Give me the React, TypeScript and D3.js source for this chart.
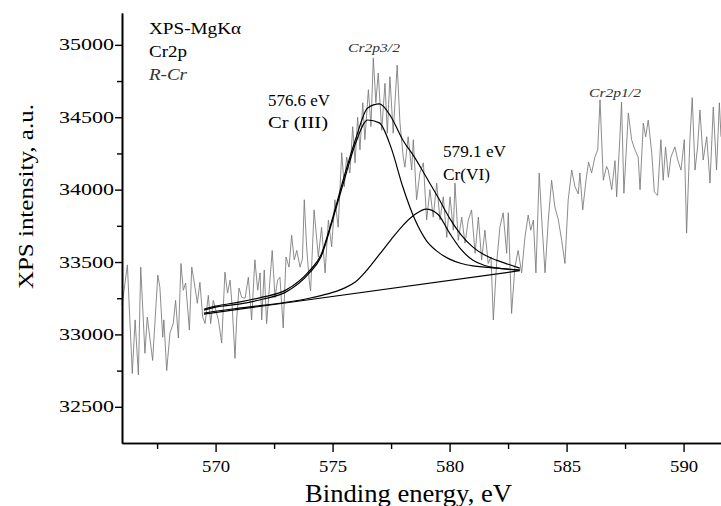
import * as d3 from 'd3'
import { useEffect, useRef } from 'react'

// measured spectrum (binding energy, eV / counts)
const spectrumEnergy = [
    566.00, 566.23, 566.44, 566.56, 566.70, 566.80, 566.98, 567.08, 567.31, 567.53,
    567.62, 567.74, 567.79, 567.91, 568.05, 568.19, 568.29, 568.41, 568.52, 568.62,
    568.72, 568.88, 568.98, 569.12, 569.22, 569.33, 569.45, 569.55, 569.69, 569.79,
    569.90, 570.12, 570.26, 570.40, 570.51, 570.62, 570.71, 570.83, 570.90, 571.00,
    571.12, 571.26, 571.40, 571.54, 571.68, 571.80, 571.90, 571.97, 572.08, 572.18,
    572.29, 572.42, 572.54, 572.65, 572.75, 572.89, 573.01, 573.14, 573.25, 573.36,
    573.47, 573.61, 573.71, 573.79, 573.89, 574.00, 574.06, 574.21, 574.39, 574.53,
    574.68, 574.82, 574.96, 575.10, 575.24, 575.39, 575.50, 575.60, 575.74, 575.86,
    575.96, 576.07, 576.17, 576.29, 576.38, 576.53, 576.64, 576.74, 576.85, 576.95,
    577.10, 577.24, 577.34, 577.45, 577.59, 577.76, 577.88, 578.02, 578.09, 578.23,
    578.38, 578.45, 578.59, 578.73, 578.88, 579.02, 579.16, 579.30, 579.45, 579.59,
    579.73, 579.88, 580.02, 580.16, 580.23, 580.37, 580.52, 580.66, 580.80, 580.94,
    581.09, 581.23, 581.37, 581.51, 581.65, 581.77, 581.87, 582.01, 582.15, 582.29,
    582.44, 582.51, 582.65, 582.79, 582.93, 583.08, 583.22, 583.36, 583.47, 583.58,
    583.69, 583.83, 583.94, 584.08, 584.22, 584.36, 584.50, 584.65, 584.79, 584.93,
    585.07, 585.22, 585.36, 585.50, 585.57, 585.69, 585.83, 585.94, 586.07, 586.21,
    586.33, 586.43, 586.57, 586.71, 586.78, 586.93, 587.07, 587.14, 587.28, 587.35,
    587.45, 587.64, 587.78, 587.92, 588.06, 588.14, 588.28, 588.38, 588.49, 588.64,
    588.75, 588.89, 589.03, 589.13, 589.23, 589.35, 589.46, 589.63, 589.75, 589.89,
    590.03, 590.13, 590.27, 590.37, 590.49, 590.60, 590.70, 590.84, 590.99, 591.13,
    591.27, 591.41, 591.53, 591.60
]
const spectrumCounts = [
    33200, 33480, 32730, 33100, 32720, 33465, 32870, 33120, 32820, 33410,
    33325, 32980, 33100, 32750, 33010, 33075, 33235, 32975, 33490, 33305,
    33355, 33030, 33465, 33325, 33215, 33360, 33120, 33075, 33270, 33075,
    33235, 33100, 32940, 33430, 33285, 33375, 33190, 32835, 33100, 33320,
    33255, 33250, 33395, 33100, 33515, 33305, 33425, 33100, 33445, 33075,
    33305, 33580, 33255, 33375, 33395, 33045, 33535, 33465, 33685, 33515,
    33580, 33465, 33520, 33930, 33605, 33375, 33300, 33860, 33535, 33740,
    33425, 33790, 33605, 33930, 33740, 34255, 34020, 34225, 34115, 34435,
    34185, 34500, 34275, 34600, 34345, 34690, 34435, 34910, 34600, 34805,
    34410, 34735, 34390, 34780, 34390, 34860, 34460, 34225, 34155, 34365,
    34135, 34345, 33930, 34115, 34185, 33790, 34000, 33810, 34045, 33790,
    33950, 33670, 33950, 33720, 34045, 33650, 33810, 33630, 33790, 33860,
    33560, 33810, 33515, 33720, 33490, 33535, 33100, 33490, 33740, 33840,
    33560, 33840, 33145, 33465, 33580, 33425, 33670, 33825, 33720, 33790,
    33425, 34115, 33790, 33425, 33790, 34065, 33880, 33790, 33650, 33490,
    33930, 34135, 34020, 33970, 34115, 33860, 34065, 34190, 34115, 34225,
    34275, 34620, 34065, 34160, 34135, 34000, 34200, 33950, 34365, 34605,
    33975, 34530, 34345, 34275, 34225, 34000, 34460, 34365, 34480, 34255,
    33985, 33960, 34345, 34065, 34295, 34085, 34225, 34295, 34205, 34135,
    34345, 33700, 34345, 34635, 34135, 34295, 34550, 34205, 34365, 34045,
    34570, 34135, 34600, 34365
]

// fitted curves, read at these energies
const fitEnergy = [569.5, 570, 571, 572, 573, 574, 574.5, 575, 575.5, 576, 576.5, 577,
    577.5, 578, 578.5, 579, 579.5, 580, 580.5, 581, 581.5, 582, 582.5, 583]
const fitEnvelope = [33174, 33195, 33223, 33257, 33306, 33437, 33548, 33803, 34094, 34357, 34564, 34592,
    34502, 34343, 34225, 34087, 33949, 33803, 33686, 33603, 33548, 33513, 33485, 33458]
const fitCr3 = [33167, 33188, 33209, 33243, 33292, 33423, 33534, 33790, 34066, 34329, 34481, 34461,
    34290, 34020, 33800, 33650, 33570, 33520, 33490, 33474, 33465, 33458, 33451, 33444]
const fitCr6 = [33147, 33160, 33181, 33200, 33222, 33250, 33268, 33290, 33320, 33365, 33450, 33552,
    33655, 33752, 33826, 33866, 33830, 33700, 33585, 33512, 33476, 33460, 33450, 33444]
const backgroundEnergy = [569.5, 583]
const backgroundCounts = [33140, 33440]

const xTicks = [570, 575, 580, 585, 590]
const xMinorTicks = [567.5, 572.5, 577.5, 582.5, 587.5]
const yTicks = [32500, 33000, 33500, 34000, 34500, 35000]
const yMinorTicks = [32750, 33250, 33750, 34250, 34750]

const WIDTH = 721
const HEIGHT = 506
const FONT = '"Liberation Serif", "Times New Roman", serif'

const drawChart = (node: SVGSVGElement) => {
    const margin = { top: 13, right: 0, bottom: 63, left: 122 }
    const innerW = WIDTH - margin.left - margin.right
    const innerH = HEIGHT - margin.top - margin.bottom

    const svg = d3.select(node)
    const g = svg.append('g').attr('transform', `translate(${margin.left},${margin.top})`)

    const x = d3.scaleLinear().domain([566, 591.6]).range([0, innerW])
    const y = d3.scaleLinear().domain([32250, 35220]).range([innerH, 0])

    // spectrum
    const spectrum = spectrumEnergy.map((e, i) => [e, spectrumCounts[i]] as [number, number])
    g.append('path')
        .datum(spectrum)
        .attr('fill', 'none')
        .attr('stroke', '#777')
        .attr('stroke-width', 0.85)
        .attr('d', d3.line<[number, number]>().x(d => x(d[0])).y(d => y(d[1])))

    // fits
    const smooth = d3.line<[number, number]>()
        .x(d => x(d[0]))
        .y(d => y(d[1]))
        .curve(d3.curveMonotoneX)
    const fits = [fitEnvelope, fitCr3, fitCr6]
    fits.forEach(vals => {
        g.append('path')
            .datum(fitEnergy.map((e, i) => [e, vals[i]] as [number, number]))
            .attr('fill', 'none')
            .attr('stroke', '#000')
            .attr('stroke-width', 1.2)
            .attr('d', smooth)
    })
    g.append('path')
        .datum(backgroundEnergy.map((e, i) => [e, backgroundCounts[i]] as [number, number]))
        .attr('fill', 'none')
        .attr('stroke', '#000')
        .attr('stroke-width', 1.2)
        .attr('d', smooth)

    // axes
    const styleAxis = (sel) => {
        sel.select('.domain').attr('stroke-width', 1.6)
        sel.selectAll('line').attr('stroke-width', 1.4)
    }

    g.append('g')
        .attr('transform', `translate(0,${innerH})`)
        .call(d3.axisBottom(x).tickValues(xMinorTicks).tickSize(6).tickSizeOuter(0).tickFormat(() => ''))
        .call(styleAxis)
    const xAxis = g.append('g')
        .attr('transform', `translate(0,${innerH})`)
        .call(d3.axisBottom(x).tickValues(xTicks).tickSize(9).tickSizeOuter(0).tickFormat(d3.format('d')))
        .call(styleAxis)
    xAxis.selectAll('text')
        .attr('y', 29)
        .attr('dy', 0)
        .attr('font-family', FONT)
        .attr('font-size', 16)
        .attr('fill', '#000')
        .attr('textLength', 28)
        .attr('lengthAdjust', 'spacingAndGlyphs')

    g.append('g')
        .call(d3.axisLeft(y).tickValues(yMinorTicks).tickSize(5).tickSizeOuter(0).tickFormat(() => ''))
        .call(styleAxis)
    const yAxis = g.append('g')
        .call(d3.axisLeft(y).tickValues(yTicks).tickSize(7).tickSizeOuter(0).tickPadding(1).tickFormat(d3.format('d')))
        .call(styleAxis)
    yAxis.selectAll('text')
        .attr('font-family', FONT)
        .attr('font-size', 16)
        .attr('fill', '#000')
        .attr('textLength', 55)
        .attr('lengthAdjust', 'spacingAndGlyphs')

    // axis titles
    svg.append('text')
        .attr('transform', `translate(33,${margin.top + innerH * 0.427}) rotate(-90)`)
        .attr('text-anchor', 'middle')
        .attr('font-family', FONT)
        .attr('font-size', 22)
        .attr('textLength', 185)
        .attr('lengthAdjust', 'spacingAndGlyphs')
        .text('XPS intensity, a.u.')

    svg.append('text')
        .attr('x', 305)
        .attr('y', 502)
        .attr('font-family', FONT)
        .attr('font-size', 25)
        .attr('textLength', 207)
        .attr('lengthAdjust', 'spacingAndGlyphs')
        .text('Binding energy, eV')

    // annotations
    const notes: [string, number, number, number, number, boolean][] = [
        ['XPS-MgKα', 149, 34, 16, 92, false],
        ['Cr2p', 149, 57, 16, 38, false],
        ['R-Cr', 149, 80, 16, 38, true],
        ['576.6 eV', 268, 106, 16, 62, false],
        ['Cr (III)', 268, 128, 16, 60, false],
        ['Cr2p3/2', 348, 52, 13, 52, true],
        ['579.1 eV', 443, 157, 16, 63, false],
        ['Cr(VI)', 443, 180, 16, 47, false],
        ['Cr2p1/2', 589, 97, 13, 52, true],
    ]
    notes.forEach(([t, tx, ty, size, len, italic]) => {
        svg.append('text')
            .attr('x', tx)
            .attr('y', ty)
            .attr('font-family', FONT)
            .attr('font-size', size)
            .attr('font-style', italic ? 'italic' : 'normal')
            .attr('fill', italic ? '#333' : '#000')
            .attr('textLength', len)
            .attr('lengthAdjust', 'spacingAndGlyphs')
            .text(t)
    })
}

const App = () => {
    const ref = useRef<SVGSVGElement>(null)

    useEffect(() => {
        if (ref.current) drawChart(ref.current)
        return () => {
            if (ref.current) d3.select(ref.current).selectAll('*').remove()
        }
    }, [])

    return (
        <svg
            ref={ref}
            width={WIDTH}
            height={HEIGHT}
            style={{ position: 'absolute', left: 0, top: 0, background: '#fff' }}
        />
    )
}

export default App
